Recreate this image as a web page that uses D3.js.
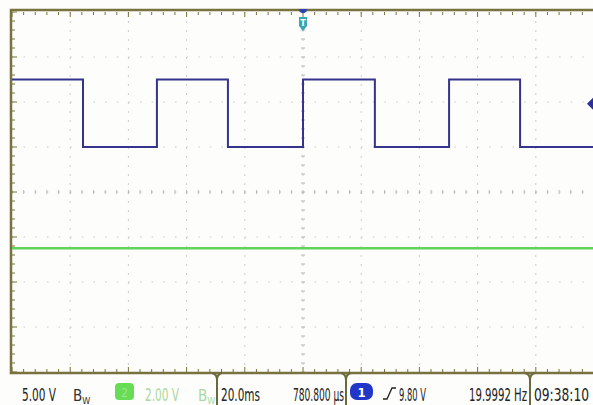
<!DOCTYPE html>
<html lang="en">
<head>
<meta charset="utf-8">
<title>Scope capture</title>
<script src="https://cdn.jsdelivr.net/npm/d3@7"></script>
<style>
  body { margin: 0; background: #fff; }
  text { font-family: "Liberation Sans Narrow", "DejaVu Sans Condensed", "Liberation Sans", sans-serif; }
</style>
</head>
<body>
<script>
// channel 1: square wave, transition times (ms) and level after each (V)
var ch1Times = [-100, -75.6, -50.2, -25.8, 0, 24.7, 50.2, 74.6, 100];
var ch1Levels = [12.5, 5.0, 12.5, 5.0, 12.5, 5.0, 12.5, 5.0, 5.0];
// channel 2: flat line
var ch2Times = [-100, 100];
var ch2Levels = [-2.5, -2.5];
var ch1VoltsPerDiv = 5.0;
var ch2VoltsPerDiv = 2.0;
var msPerDiv = 20;
var triggerLevel = 9.80;

var w = 593, h = 405;
var gLeft = 12, gRight = 594, gTop = 12, gBottom = 372;

var x = d3.scaleLinear().domain([-5 * msPerDiv, 5 * msPerDiv]).range([gLeft, gRight]);
var y = d3.scaleLinear().domain([-4, 4]).range([gBottom, gTop]);

var svg = d3.select("body").append("svg").attr("width", w).attr("height", h);
svg.append("rect").attr("width", w).attr("height", h).attr("fill", "#fdfdfb");

// dotted grid
var divX = d3.range(-5, 6), divY = d3.range(-4, 5);
var dx = (gRight - gLeft) / 50, dy = (gBottom - gTop) / 40;
svg.selectAll(".gx").data(divX.slice(1, -1)).enter().append("line")
   .attr("x1", function(d){ return x(d * msPerDiv); })
   .attr("x2", function(d){ return x(d * msPerDiv); })
   .attr("y1", gTop).attr("y2", gBottom)
   .attr("stroke", "#cdcdcd").attr("stroke-width", 1)
   .attr("stroke-dasharray", "2," + (dy - 2));
svg.selectAll(".gy").data(divY.slice(1, -1)).enter().append("line")
   .attr("y1", function(d){ return y(d); })
   .attr("y2", function(d){ return y(d); })
   .attr("x1", gLeft).attr("x2", gRight)
   .attr("stroke", "#c8c8c8").attr("stroke-width", 1)
   .attr("stroke-dasharray", "1.5," + (dx - 1.5));

// centre cross ticks
var minorX = d3.range(0, 51), minorY = d3.range(0, 41);
svg.selectAll(".cx").data(minorX).enter().append("line")
   .attr("x1", function(d){ return gLeft + d * dx; })
   .attr("x2", function(d){ return gLeft + d * dx; })
   .attr("y1", y(0) - 2).attr("y2", y(0) + 2)
   .attr("stroke", "#b8b8b8");
svg.selectAll(".cy").data(minorY).enter().append("line")
   .attr("y1", function(d){ return gTop + d * dy; })
   .attr("y2", function(d){ return gTop + d * dy; })
   .attr("x1", x(0) - 2).attr("x2", x(0) + 2)
   .attr("stroke", "#b8b8b8");

// frame ticks
var frameCol = "#77723e";
svg.selectAll(".tt").data(minorX).enter().append("line")
   .attr("x1", function(d){ return gLeft + d * dx; })
   .attr("x2", function(d){ return gLeft + d * dx; })
   .attr("y1", gTop).attr("y2", function(d){ return gTop + (d % 5 == 0 ? 5 : 3); })
   .attr("stroke", frameCol);
svg.selectAll(".tb").data(minorX).enter().append("line")
   .attr("x1", function(d){ return gLeft + d * dx; })
   .attr("x2", function(d){ return gLeft + d * dx; })
   .attr("y1", gBottom).attr("y2", function(d){ return gBottom - (d % 5 == 0 ? 5 : 3); })
   .attr("stroke", frameCol);
svg.selectAll(".tl").data(minorY).enter().append("line")
   .attr("y1", function(d){ return gTop + d * dy; })
   .attr("y2", function(d){ return gTop + d * dy; })
   .attr("x1", gLeft).attr("x2", function(d){ return gLeft + (d % 5 == 0 ? 5 : 3); })
   .attr("stroke", frameCol);

// frame
svg.append("path")
   .attr("d", "M" + (w + 2) + "," + (gTop - 2) + "H" + (gLeft - 1) + "V" + (gBottom + 1) + "H" + (w + 2))
   .attr("fill", "none").attr("stroke", frameCol).attr("stroke-width", 2.5);

// traces
var stepLine = d3.line().curve(d3.curveStepAfter);
svg.append("path")
   .attr("d", stepLine(ch2Times.map(function(t, i){ return [x(t), y(ch2Levels[i] / ch2VoltsPerDiv)]; })))
   .attr("fill", "none").attr("stroke", "#5fd35a").attr("stroke-width", 2.5);
svg.append("path")
   .attr("d", stepLine(ch1Times.map(function(t, i){ return [x(t), y(ch1Levels[i] / ch1VoltsPerDiv)]; })))
   .attr("fill", "none").attr("stroke", "#35338c").attr("stroke-width", 2);

// trigger position marker
var tx = x(0);
svg.append("path")
   .attr("d", "M" + (tx - 4) + "," + (gTop - 3) + "A4,4 0 0,0 " + (tx + 4) + "," + (gTop - 3) + "Z")
   .attr("fill", "#2f43b0");
svg.append("path")
   .attr("d", "M" + (tx - 4) + ",17 H" + (tx + 4) + " V26 L" + tx + ",31 L" + (tx - 4) + ",26 Z")
   .attr("fill", "#3aa6b3");
svg.append("text").attr("x", tx).attr("y", 26).attr("text-anchor", "middle")
   .attr("font-size", 9).attr("font-weight", "bold").attr("fill", "#fff").text("T");

// trigger level marker
var ty = y(triggerLevel / ch1VoltsPerDiv);
svg.append("path")
   .attr("d", "M" + (w - 6) + "," + ty + " L" + w + "," + (ty - 6) + " V" + (ty + 6) + " Z")
   .attr("fill", "#2f2f9a");

// status bar
var barY = 401;
function label(xp, txt, col, len) {
  var t = svg.append("text").attr("x", xp).attr("y", barY).attr("font-size", 17)
     .attr("fill", col).text(txt);
  if (len) t.attr("textLength", len).attr("lengthAdjust", "spacingAndGlyphs");
  return t;
}
function bw(xp, col) {
  var t = svg.append("text").attr("x", xp).attr("y", barY).attr("font-size", 15).attr("fill", col);
  t.append("tspan").text("B");
  t.append("tspan").attr("font-size", 9).attr("dy", 3).text("W");
}
label(22, ch1VoltsPerDiv.toFixed(2) + " V", "#222", 34);
bw(73, "#333");
svg.append("rect").attr("x", 115).attr("y", 383).attr("width", 19).attr("height", 17).attr("rx", 4)
   .attr("fill", "#66dd55");
svg.append("text").attr("x", 124.5).attr("y", 397).attr("text-anchor", "middle")
   .attr("font-size", 12).attr("fill", "#9be38e").text("2");
label(145, ch2VoltsPerDiv.toFixed(2) + " V", "#a8d9a0", 34);
bw(198, "#a8d9a0");
label(221, msPerDiv.toFixed(1) + "ms", "#222", 39);
label(293, "780.800 µs", "#222", 51);
svg.append("rect").attr("x", 350).attr("y", 383).attr("width", 23).attr("height", 17).attr("rx", 7)
   .attr("fill", "#2236c8");
svg.append("text").attr("x", 361.5).attr("y", 397).attr("text-anchor", "middle")
   .attr("font-size", 13).attr("font-weight", "bold").attr("fill", "#fff").text("1");
svg.append("path").attr("d", "M383,399 H387 L392,388 H396").attr("fill", "none")
   .attr("stroke", "#222").attr("stroke-width", 1.3);
label(399, triggerLevel.toFixed(2) + " V", "#222", 27);
label(469, "19.9992 Hz", "#222", 58);
label(534, "09:38:10", "#222", 55);

// status bar dividers
[217, 346, 530].forEach(function(d){
  svg.append("path")
     .attr("d", "M" + (d - 5) + "," + (gBottom + 1) + " Q" + d + "," + (gBottom + 2) + " " + d + "," + (gBottom + 8) + " V" + h)
     .attr("fill", "none").attr("stroke", "#6b6a3c").attr("stroke-width", 2);
  svg.append("path")
     .attr("d", "M" + (d + 5) + "," + (gBottom + 1) + " Q" + d + "," + (gBottom + 2) + " " + d + "," + (gBottom + 8))
     .attr("fill", "none").attr("stroke", "#6b6a3c").attr("stroke-width", 2);
});
</script>
</body>
</html>
